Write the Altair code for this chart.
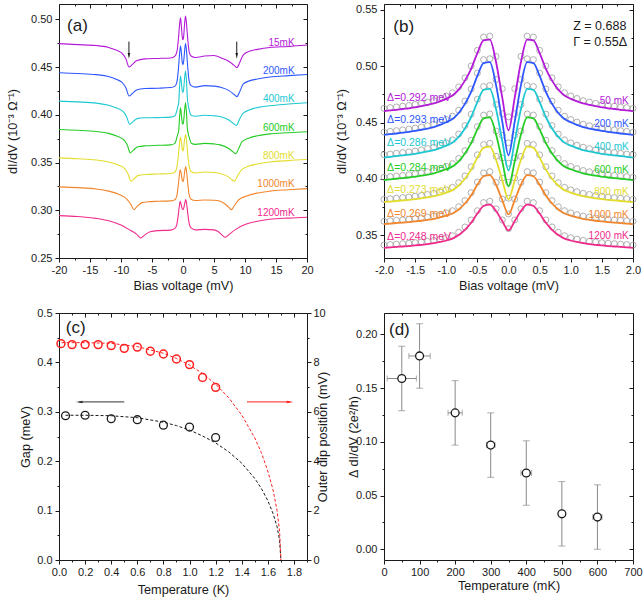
import altair as alt
import pandas as pd

FONT = "Liberation Sans"
INK = "#1a1a1a"
GREY = "#9c9c9c"

# ------------------------------------------------------------------ shared
a_names = ["15mK", "200mK", "400mK", "600mK", "800mK", "1000mK", "1200mK"]
b_temps_mK = [50, 200, 400, 600, 800, 1000, 1200]
curve_colors = ["#b41ad8", "#2f57ff", "#1ec8d2", "#25cc25", "#e3dd2e", "#f2862c", "#f02a8c"]

# ------------------------------------------------------------------ (a) wide-bias dI/dV
a_v_15 = [-20, -17, -14, -12, -10.7, -9.7, -9.2, -8.7, -8.2, -7.5, -6.2, -4, -2, -1.3, -1.0,
          -0.75, -0.55, -0.4, -0.25, -0.1, 0, 0.1, 0.25, 0.4, 0.55, 0.75, 1.0, 1.3, 2, 3.5,
          5, 6.2, 7.5, 8.2, 8.7, 9.2, 9.7, 10.7, 12, 14, 17, 20]
a_g_15 = [0.4745, 0.4735, 0.4725, 0.4705, 0.4675, 0.4635, 0.4585, 0.4500, 0.4525, 0.4565,
          0.4585, 0.4590, 0.4595, 0.4615, 0.4655, 0.4785, 0.4945, 0.5015, 0.4915, 0.4805,
          0.4785, 0.4815, 0.4945, 0.5035, 0.4965, 0.4805, 0.4655, 0.4615, 0.4600, 0.4615,
          0.4620, 0.4595, 0.4555, 0.4520, 0.4495, 0.4555, 0.4625, 0.4665, 0.4685, 0.4705,
          0.4715, 0.4730]
a_v_200 = list(a_v_15)
a_g_200 = [0.4440, 0.4432, 0.4420, 0.4400, 0.4370, 0.4330, 0.4280, 0.4196, 0.4220, 0.4260,
           0.4275, 0.4278, 0.4285, 0.4300, 0.4340, 0.4470, 0.4640, 0.4720, 0.4640, 0.4540,
           0.4525, 0.4555, 0.4660, 0.4745, 0.4680, 0.4510, 0.4350, 0.4305, 0.4290, 0.4305,
           0.4300, 0.4285, 0.4250, 0.4215, 0.4190, 0.4250, 0.4320, 0.4355, 0.4375, 0.4395,
           0.4410, 0.4422]
a_v_400 = [-20, -17, -14, -12, -10.7, -9.6, -9.1, -8.6, -8.1, -7.4, -6.1, -4, -2, -1.3, -1.0,
           -0.85, -0.7, -0.55, -0.4, -0.25, -0.1, 0, 0.1, 0.25, 0.4, 0.55, 0.7, 0.85, 1.0, 1.3,
           2, 3.5, 5, 6.1, 7.4, 8.1, 8.6, 9.1, 9.6, 10.7, 12, 14, 17, 20]
a_g_400 = [0.4143, 0.4135, 0.4122, 0.4100, 0.4070, 0.4030, 0.3980, 0.3900, 0.3925, 0.3960,
           0.3968, 0.3970, 0.3975, 0.3990, 0.4040, 0.4080, 0.4120, 0.4300, 0.4406, 0.4330,
           0.4245, 0.4235, 0.4265, 0.4380, 0.4458, 0.4370, 0.4180, 0.4100, 0.4050, 0.3995,
           0.3985, 0.3995, 0.3990, 0.3980, 0.3945, 0.3910, 0.3888, 0.3950, 0.4010, 0.4050,
           0.4075, 0.4095, 0.4112, 0.4126]
a_v_600 = [-20, -17, -14, -12, -10.6, -9.5, -9.0, -8.5, -8.0, -7.3, -6, -4, -2, -1.3, -1.0,
           -0.85, -0.7, -0.55, -0.4, -0.25, -0.1, 0, 0.1, 0.25, 0.4, 0.55, 0.7, 0.85, 1.0, 1.3,
           2, 3.5, 5, 6, 7.3, 8.0, 8.5, 9.0, 9.5, 10.6, 12, 14, 17, 20]
a_g_600 = [0.3846, 0.3838, 0.3825, 0.3805, 0.3775, 0.3735, 0.3685, 0.3601, 0.3630, 0.3665,
           0.3675, 0.3680, 0.3685, 0.3700, 0.3760, 0.3795, 0.3830, 0.3980, 0.4073, 0.3990,
           0.3910, 0.3900, 0.3930, 0.4040, 0.4126, 0.4030, 0.3860, 0.3800, 0.3765, 0.3705,
           0.3690, 0.3700, 0.3695, 0.3685, 0.3650, 0.3615, 0.3591, 0.3650, 0.3715, 0.3755,
           0.3780, 0.3800, 0.3812, 0.3822]
a_v_800 = [-20, -17, -14, -12, -10.5, -9.4, -8.9, -8.4, -7.9, -7.2, -6, -4, -2, -1.3, -1.0,
           -0.8, -0.6, -0.42, -0.25, -0.1, 0, 0.1, 0.25, 0.42, 0.6, 0.8, 1.0, 1.3, 2, 3.5,
           5, 6, 7.2, 7.9, 8.3, 8.8, 9.4, 10.5, 12, 14, 17, 20]
a_g_800 = [0.3549, 0.3540, 0.3527, 0.3505, 0.3475, 0.3435, 0.3385, 0.3304, 0.3330, 0.3365,
           0.3375, 0.3380, 0.3385, 0.3400, 0.3450, 0.3540, 0.3680, 0.3766, 0.3710, 0.3630,
           0.3620, 0.3650, 0.3740, 0.3794, 0.3710, 0.3560, 0.3460, 0.3405, 0.3390, 0.3400,
           0.3395, 0.3385, 0.3355, 0.3320, 0.3304, 0.3360, 0.3420, 0.3460, 0.3485, 0.3505,
           0.3520, 0.3531]
a_v_1000 = [-20, -17, -14, -12, -10.3, -9.1, -8.4, -7.9, -7.4, -6.6, -5.5, -4, -2, -1.3, -1.0,
            -0.8, -0.6, -0.45, -0.3, -0.15, 0, 0.15, 0.3, 0.45, 0.6, 0.8, 1.0, 1.3, 2, 3.5,
            5, 6, 6.9, 7.4, 7.8, 8.3, 9.0, 10.3, 12, 14, 17, 20]
a_g_1000 = [0.3245, 0.3237, 0.3223, 0.3200, 0.3165, 0.3120, 0.3060, 0.3007, 0.3040, 0.3080,
            0.3090, 0.3094, 0.3098, 0.3110, 0.3150, 0.3240, 0.3360, 0.3427, 0.3390, 0.3320,
            0.3300, 0.3340, 0.3420, 0.3455, 0.3390, 0.3260, 0.3160, 0.3115, 0.3102, 0.3108,
            0.3105, 0.3095, 0.3060, 0.3030, 0.3007, 0.3050, 0.3110, 0.3150, 0.3180, 0.3200,
            0.3215, 0.3227]
a_v_1200 = [-20, -17, -14, -12, -10, -8.5, -7.5, -6.8, -6.2, -5.3, -4, -2, -1.3, -1.0, -0.8,
            -0.6, -0.45, -0.3, -0.15, 0, 0.15, 0.3, 0.45, 0.6, 0.8, 1.0, 1.3, 2, 3.5, 5,
            5.6, 6.3, 6.8, 7.5, 8.5, 10, 12, 14, 17, 20]
a_g_1200 = [0.2944, 0.2935, 0.2915, 0.2890, 0.2845, 0.2790, 0.2750, 0.2710, 0.2740, 0.2775,
            0.2787, 0.2792, 0.2810, 0.2850, 0.2930, 0.3040, 0.3094, 0.3060, 0.3020, 0.3007,
            0.3030, 0.3080, 0.3112, 0.3060, 0.2950, 0.2860, 0.2815, 0.2795, 0.2800, 0.2795,
            0.2780, 0.2740, 0.2717, 0.2750, 0.2800, 0.2850, 0.2885, 0.2905, 0.2918, 0.2927]

a_label_x = 18.0
a_label_y = [0.4755, 0.4458, 0.4161, 0.3863, 0.3567, 0.3270, 0.2972]
a_arrow_v = [-8.72, 8.67]
a_arrow_from, a_arrow_to, a_arrow_head = 0.4766, 0.4645, 0.4617

# ------------------------------------------------------------------ (b) low-bias spectra
b_v = [-2.0, -1.9, -1.8, -1.7, -1.6, -1.5, -1.4, -1.3, -1.2, -1.1, -1.0, -0.9, -0.8, -0.7,
       -0.6, -0.5, -0.4, -0.3, -0.2, -0.1, 0.0, 0.1, 0.2, 0.3, 0.4, 0.5, 0.6, 0.7, 0.8, 0.9,
       1.0, 1.1, 1.2, 1.3, 1.4, 1.5, 1.6, 1.7, 1.8, 1.9, 2.0]

b_fit_50 = [0.4600, 0.4607, 0.4613, 0.4620, 0.4626, 0.4635, 0.4645, 0.4656, 0.4669, 0.4688,
            0.4710, 0.4739, 0.4791, 0.4871, 0.4976, 0.5115, 0.5227, 0.5235, 0.5036, 0.4720,
            0.4430,
            0.4720, 0.5036, 0.5235, 0.5227, 0.5115, 0.4976, 0.4871, 0.4791, 0.4739, 0.4710,
            0.4688, 0.4669, 0.4656, 0.4645, 0.4635, 0.4626, 0.4620, 0.4613, 0.4607, 0.4600]
b_fit_200 = [0.4390, 0.4397, 0.4403, 0.4410, 0.4417, 0.4426, 0.4436, 0.4447, 0.4460, 0.4479,
             0.4502, 0.4531, 0.4584, 0.4665, 0.4772, 0.4913, 0.5027, 0.5035, 0.4831, 0.4508,
             0.4210,
             0.4508, 0.4831, 0.5035, 0.5027, 0.4913, 0.4772, 0.4665, 0.4584, 0.4531, 0.4502,
             0.4479, 0.4460, 0.4447, 0.4436, 0.4426, 0.4417, 0.4410, 0.4403, 0.4397, 0.4390]
b_fit_400 = [0.4190, 0.4196, 0.4203, 0.4209, 0.4215, 0.4223, 0.4233, 0.4244, 0.4256, 0.4274,
             0.4295, 0.4322, 0.4373, 0.4448, 0.4549, 0.4681, 0.4789, 0.4798, 0.4619, 0.4336,
             0.4075,
             0.4336, 0.4619, 0.4798, 0.4789, 0.4681, 0.4549, 0.4448, 0.4373, 0.4322, 0.4295,
             0.4274, 0.4256, 0.4244, 0.4233, 0.4223, 0.4215, 0.4209, 0.4203, 0.4196, 0.4190]
b_fit_600 = [0.3990, 0.3996, 0.4002, 0.4007, 0.4013, 0.4021, 0.4029, 0.4039, 0.4050, 0.4067,
             0.4086, 0.4111, 0.4157, 0.4226, 0.4318, 0.4439, 0.4536, 0.4546, 0.4395, 0.4156,
             0.3935,
             0.4156, 0.4395, 0.4546, 0.4536, 0.4439, 0.4318, 0.4226, 0.4157, 0.4111, 0.4086,
             0.4067, 0.4050, 0.4039, 0.4029, 0.4021, 0.4013, 0.4007, 0.4002, 0.3996, 0.3990]
b_fit_800 = [0.3795, 0.3800, 0.3805, 0.3810, 0.3815, 0.3822, 0.3829, 0.3838, 0.3848, 0.3862,
             0.3879, 0.3901, 0.3942, 0.4002, 0.4083, 0.4189, 0.4275, 0.4286, 0.4170, 0.3988,
             0.3820,
             0.3988, 0.4170, 0.4286, 0.4275, 0.4189, 0.4083, 0.4002, 0.3942, 0.3901, 0.3879,
             0.3862, 0.3848, 0.3838, 0.3829, 0.3822, 0.3815, 0.3810, 0.3805, 0.3800, 0.3795]
b_fit_1000 = [0.3600, 0.3605, 0.3609, 0.3613, 0.3618, 0.3624, 0.3630, 0.3638, 0.3647, 0.3659,
              0.3675, 0.3694, 0.3729, 0.3783, 0.3854, 0.3948, 0.4024, 0.4035, 0.3949, 0.3812,
              0.3686,
              0.3812, 0.3949, 0.4035, 0.4024, 0.3948, 0.3854, 0.3783, 0.3729, 0.3694, 0.3675,
              0.3659, 0.3647, 0.3638, 0.3630, 0.3624, 0.3618, 0.3613, 0.3609, 0.3605, 0.3600]
b_fit_1200 = [0.3390, 0.3394, 0.3398, 0.3402, 0.3406, 0.3411, 0.3417, 0.3423, 0.3431, 0.3442,
              0.3455, 0.3472, 0.3503, 0.3550, 0.3612, 0.3694, 0.3761, 0.3773, 0.3716, 0.3627,
              0.3544,
              0.3627, 0.3716, 0.3773, 0.3761, 0.3694, 0.3612, 0.3550, 0.3503, 0.3472, 0.3455,
              0.3442, 0.3431, 0.3423, 0.3417, 0.3411, 0.3406, 0.3402, 0.3398, 0.3394, 0.3390]

b_dat_50 = [0.4625, 0.4632, 0.4638, 0.4645, 0.4651, 0.4660, 0.4670, 0.4681, 0.4694, 0.4713,
            0.4735, 0.4764, 0.4816, 0.4896, 0.5001, 0.5140, 0.5257, 0.5265, 0.5086, 0.4800,
            0.4550,
            0.4800, 0.5086, 0.5265, 0.5257, 0.5140, 0.5001, 0.4896, 0.4816, 0.4764, 0.4735,
            0.4713, 0.4694, 0.4681, 0.4670, 0.4660, 0.4651, 0.4645, 0.4638, 0.4632, 0.4625]
b_dat_200 = [0.4415, 0.4422, 0.4428, 0.4435, 0.4442, 0.4451, 0.4461, 0.4472, 0.4485, 0.4504,
             0.4527, 0.4556, 0.4609, 0.4690, 0.4797, 0.4938, 0.5057, 0.5065, 0.4881, 0.4578,
             0.4320,
             0.4578, 0.4881, 0.5065, 0.5057, 0.4938, 0.4797, 0.4690, 0.4609, 0.4556, 0.4527,
             0.4504, 0.4485, 0.4472, 0.4461, 0.4451, 0.4442, 0.4435, 0.4428, 0.4422, 0.4415]
b_dat_400 = [0.4215, 0.4221, 0.4228, 0.4234, 0.4240, 0.4248, 0.4258, 0.4269, 0.4281, 0.4299,
             0.4320, 0.4347, 0.4398, 0.4473, 0.4574, 0.4706, 0.4819, 0.4828, 0.4659, 0.4386,
             0.4140,
             0.4386, 0.4659, 0.4828, 0.4819, 0.4706, 0.4574, 0.4473, 0.4398, 0.4347, 0.4320,
             0.4299, 0.4281, 0.4269, 0.4258, 0.4248, 0.4240, 0.4234, 0.4228, 0.4221, 0.4215]
b_dat_600 = [0.4015, 0.4021, 0.4027, 0.4032, 0.4038, 0.4046, 0.4054, 0.4064, 0.4075, 0.4092,
             0.4111, 0.4136, 0.4182, 0.4251, 0.4343, 0.4464, 0.4566, 0.4576, 0.4425, 0.4186,
             0.3970,
             0.4186, 0.4425, 0.4576, 0.4566, 0.4464, 0.4343, 0.4251, 0.4182, 0.4136, 0.4111,
             0.4092, 0.4075, 0.4064, 0.4054, 0.4046, 0.4038, 0.4032, 0.4027, 0.4021, 0.4015]
b_dat_800 = [0.3820, 0.3825, 0.3830, 0.3835, 0.3840, 0.3847, 0.3854, 0.3863, 0.3873, 0.3887,
             0.3904, 0.3926, 0.3967, 0.4027, 0.4108, 0.4214, 0.4305, 0.4316, 0.4200, 0.4008,
             0.3830,
             0.4008, 0.4200, 0.4316, 0.4305, 0.4214, 0.4108, 0.4027, 0.3967, 0.3926, 0.3904,
             0.3887, 0.3873, 0.3863, 0.3854, 0.3847, 0.3840, 0.3835, 0.3830, 0.3825, 0.3820]
b_dat_1000 = [0.3625, 0.3630, 0.3634, 0.3638, 0.3643, 0.3649, 0.3655, 0.3663, 0.3672, 0.3684,
              0.3700, 0.3719, 0.3754, 0.3808, 0.3879, 0.3973, 0.4054, 0.4065, 0.3969, 0.3822,
              0.3690,
              0.3822, 0.3969, 0.4065, 0.4054, 0.3973, 0.3879, 0.3808, 0.3754, 0.3719, 0.3700,
              0.3684, 0.3672, 0.3663, 0.3655, 0.3649, 0.3643, 0.3638, 0.3634, 0.3630, 0.3625]
b_dat_1200 = [0.3415, 0.3419, 0.3423, 0.3427, 0.3431, 0.3436, 0.3442, 0.3448, 0.3456, 0.3467,
              0.3480, 0.3497, 0.3528, 0.3575, 0.3637, 0.3719, 0.3791, 0.3803, 0.3736, 0.3637,
              0.3560,
              0.3637, 0.3736, 0.3803, 0.3791, 0.3719, 0.3637, 0.3575, 0.3528, 0.3497, 0.3480,
              0.3467, 0.3456, 0.3448, 0.3442, 0.3436, 0.3431, 0.3427, 0.3423, 0.3419, 0.3415]

b_gap_label_x = -1.95
b_gap_label_y = [0.472, 0.452, 0.432, 0.410, 0.390, 0.369, 0.349]
b_temp_label_x = 1.93
b_temp_label_y = [0.4695, 0.4488, 0.4281, 0.4081, 0.3883, 0.3682, 0.3491]
b_Z = 0.688
b_Gamma = 0.55

# ------------------------------------------------------------------ (c) gap and outer dip vs T
c_gap_T = [0.05, 0.2, 0.4, 0.6, 0.8, 1.0, 1.2]
c_gap = [0.292, 0.293, 0.286, 0.284, 0.273, 0.269, 0.248]
c_dip_T = [0.015, 0.1, 0.2, 0.3, 0.4, 0.5, 0.6, 0.7, 0.8, 0.9, 1.0, 1.1, 1.2]
c_dip = [8.76, 8.72, 8.72, 8.72, 8.68, 8.57, 8.62, 8.45, 8.34, 8.14, 7.91, 7.39, 6.99]
c_gap_fit_T = [0.05, 0.2, 0.4, 0.6, 0.8, 0.9, 1.0, 1.1, 1.2, 1.3, 1.4, 1.5, 1.55, 1.6, 1.64,
               1.67, 1.69, 1.7]
c_gap_fit = [0.293, 0.293, 0.292, 0.288, 0.279, 0.272, 0.263, 0.251, 0.237, 0.219, 0.196,
             0.165, 0.145, 0.120, 0.094, 0.068, 0.040, 0.0]
c_dip_fit_T = [0.02, 0.2, 0.4, 0.6, 0.8, 0.9, 1.0, 1.1, 1.2, 1.3, 1.4, 1.5, 1.55, 1.6, 1.64,
               1.67, 1.69, 1.7]
c_dip_fit = [8.80, 8.80, 8.77, 8.64, 8.37, 8.16, 7.89, 7.55, 7.12, 6.57, 5.87, 4.94, 4.35,
             3.60, 2.83, 2.02, 1.17, 0.0]
c_arrow_y = 0.32
c_arrow_left = [0.155, 0.50]
c_arrow_right = [1.44, 1.77]

# ------------------------------------------------------------------ (d) conductance step vs T
d_T = [50, 100, 200, 300, 400, 500, 600]
d_val = [0.159, 0.180, 0.127, 0.097, 0.071, 0.033, 0.030]
d_yerr = [0.030, 0.030, 0.030, 0.030, 0.030, 0.030, 0.030]
d_xerr = [41, 30, 20, 12, 15, 8, 13]

# ------------------------------------------------------------------ helpers
W1, W2 = 248, 249
H1, H2 = 254, 247
MINUS_FIX = "replace(datum.label, '\u2212', '-')"


def sc(dom):
    return alt.Scale(domain=dom, nice=False, zero=False)


def xq(field, dom):
    return alt.X(f"{field}:Q", scale=sc(dom), axis=None)


def yq(field, dom):
    return alt.Y(f"{field}:Q", scale=sc(dom), axis=None)


def tick_axis(orient, values, size, offset=0):
    return alt.Axis(orient=orient, values=values, labels=False, tickSize=size,
                    offset=offset, domain=False, grid=False, title=None)


def guide_layer(xdom, ydom, xaxis, yaxis):
    corners = pd.DataFrame({"x": list(xdom), "y": list(ydom)})
    return alt.Chart(corners).mark_point(opacity=0, size=0).encode(
        x=alt.X("x:Q", scale=sc(xdom), axis=xaxis),
        y=alt.Y("y:Q", scale=sc(ydom), axis=yaxis))


def frame(xdom, ydom, xmaj, xmin, ymaj, ymin, xfmt, yfmt, xtitle, ytitle,
          title_x, title_y, mirror_right=True):
    """Invisible layers that carry the boxed axes with inner mirror ticks."""
    labelled = guide_layer(
        xdom, ydom,
        alt.Axis(orient="bottom", values=xmaj, format=xfmt, labelExpr=MINUS_FIX,
                 title=xtitle, titleY=title_y, titleBaseline="top",
                 tickSize=4, labelPadding=2, domain=False, grid=False),
        alt.Axis(orient="left", values=ymaj, format=yfmt, labelExpr=MINUS_FIX,
                 title=ytitle, titleX=title_x, titleBaseline="bottom",
                 tickSize=4, labelPadding=3, domain=False, grid=False))
    minor = guide_layer(xdom, ydom, tick_axis("bottom", xmin, 2), tick_axis("left", ymin, 2))
    top_major = guide_layer(xdom, ydom, tick_axis("top", xmaj, 4, -4),
                            tick_axis("right", ymaj, 4, -4) if mirror_right else None)
    top_minor = guide_layer(xdom, ydom, tick_axis("top", xmin, 2, -2),
                            tick_axis("right", ymin, 2, -2) if mirror_right else None)
    return [labelled, minor, top_major, top_minor]


def text_layer(df, xdom, ydom, size, align="left"):
    return alt.Chart(df).mark_text(font=FONT, fontSize=size, align=align,
                                   baseline="middle", color=INK).encode(
        x=xq("x", xdom), y=yq("y", ydom), text="t:N")


# ------------------------------------------------------------------ panel (a)
A_X, A_Y = [-20, 20], [0.25, 0.516]
a_sets = [(a_v_15, a_g_15), (a_v_200, a_g_200), (a_v_400, a_g_400), (a_v_600, a_g_600),
          (a_v_800, a_g_800), (a_v_1000, a_g_1000), (a_v_1200, a_g_1200)]
a_df = pd.concat([pd.DataFrame({"V": v, "G": g, "T": n})
                  for n, (v, g) in zip(a_names, a_sets)], ignore_index=True)
a_color = alt.Color("T:N", scale=alt.Scale(domain=a_names, range=curve_colors), legend=None)

a_lines = alt.Chart(a_df).mark_line(strokeWidth=1.1, interpolate="monotone").encode(
    x=xq("V", A_X), y=yq("G", A_Y), color=a_color)
a_lab = alt.Chart(pd.DataFrame({"x": [a_label_x] * len(a_names), "y": a_label_y, "T": a_names})
                  ).mark_text(font=FONT, fontSize=10, align="right", baseline="middle").encode(
    x=xq("x", A_X), y=yq("y", A_Y), text="T:N", color=a_color)
a_arrow_df = pd.DataFrame({"x": a_arrow_v, "y1": [a_arrow_from] * 2, "y2": [a_arrow_to] * 2,
                           "yh": [a_arrow_head] * 2})
a_arrow_line = alt.Chart(a_arrow_df).mark_rule(color=INK, strokeWidth=1).encode(
    x=xq("x", A_X), y=yq("y1", A_Y), y2="y2:Q")
a_arrow_tip = alt.Chart(a_arrow_df).mark_point(
    shape="M -0.45 -1 L 0.45 -1 L 0 1 Z", filled=True, color=INK, size=32, opacity=1,
    strokeWidth=0).encode(x=xq("x", A_X), y=yq("yh", A_Y))
a_tag = text_layer(pd.DataFrame({"x": [-18.7], "y": [0.493], "t": ["(a)"]}), A_X, A_Y, 17)

panel_a = alt.layer(
    *frame(A_X, A_Y, [-20, -15, -10, -5, 0, 5, 10, 15, 20],
           [-17.5, -12.5, -7.5, -2.5, 2.5, 7.5, 12.5, 17.5],
           [0.25, 0.30, 0.35, 0.40, 0.45, 0.50], [0.275, 0.325, 0.375, 0.425, 0.475],
           "d", ".2f", "Bias voltage (mV)", "dI/dV (10\u207b\u00b3 \u03a9\u207b\u00b9)", -39.5, 21),
    a_lines, a_lab, a_arrow_line, a_arrow_tip, a_tag,
).resolve_axis(x="independent", y="independent").properties(width=W1, height=H1)

# ------------------------------------------------------------------ panel (b)
B_X, B_Y = [-2, 2], [0.33, 0.555]
b_names = [f"{t} mK" for t in b_temps_mK]
b_fits = [b_fit_50, b_fit_200, b_fit_400, b_fit_600, b_fit_800, b_fit_1000, b_fit_1200]
b_dats = [b_dat_50, b_dat_200, b_dat_400, b_dat_600, b_dat_800, b_dat_1000, b_dat_1200]
b_fit_df = pd.concat([pd.DataFrame({"V": b_v, "G": g, "T": n})
                      for n, g in zip(b_names, b_fits)], ignore_index=True)
b_dat_df = pd.concat([pd.DataFrame({"V": b_v, "G": g, "T": n})
                      for n, g in zip(b_names, b_dats)], ignore_index=True)
b_color = alt.Color("T:N", scale=alt.Scale(domain=b_names, range=curve_colors), legend=None)

b_points = alt.Chart(b_dat_df).mark_point(
    shape="circle", filled=False, color=GREY, size=36, strokeWidth=0.8, opacity=1).encode(
    x=xq("V", B_X), y=yq("G", B_Y), detail="T:N")
b_lines = alt.Chart(b_fit_df).mark_line(strokeWidth=1.8, interpolate="monotone").encode(
    x=xq("V", B_X), y=yq("G", B_Y), color=b_color)
b_gap_lab = alt.Chart(pd.DataFrame({
    "x": [b_gap_label_x] * len(b_names), "y": b_gap_label_y, "T": b_names,
    "t": [f"\u0394={g:.3f} meV" for g in c_gap]})).mark_text(
    font=FONT, fontSize=10.5, align="left", baseline="middle").encode(
    x=xq("x", B_X), y=yq("y", B_Y), text="t:N", color=b_color)
b_temp_lab = alt.Chart(pd.DataFrame({
    "x": [b_temp_label_x] * len(b_names), "y": b_temp_label_y, "T": b_names})).mark_text(
    font=FONT, fontSize=10, align="right", baseline="middle").encode(
    x=xq("x", B_X), y=yq("y", B_Y), text="T:N", color=b_color)
b_params = text_layer(pd.DataFrame({
    "x": [1.04, 1.04], "y": [0.5352, 0.5217],
    "t": [f"Z = {b_Z}", f"\u0393 = {b_Gamma}\u0394"]}), B_X, B_Y, 12.5)
b_tag = text_layer(pd.DataFrame({"x": [-1.85], "y": [0.5343], "t": ["(b)"]}), B_X, B_Y, 17)

panel_b = alt.layer(
    *frame(B_X, B_Y, [-2.0, -1.5, -1.0, -0.5, 0.0, 0.5, 1.0, 1.5, 2.0],
           [-1.75, -1.25, -0.75, -0.25, 0.25, 0.75, 1.25, 1.75],
           [0.35, 0.40, 0.45, 0.50, 0.55], [0.375, 0.425, 0.475, 0.525],
           ".1f", ".2f", "Bias voltage (mV)", "dI/dV (10\u207b\u00b3 \u03a9\u207b\u00b9)", -36, 21),
    b_points, b_lines, b_gap_lab, b_temp_lab, b_params, b_tag,
).resolve_axis(x="independent", y="independent").properties(width=W2, height=H1)

# ------------------------------------------------------------------ panel (c)
C_X, C_Y, C_Y2 = [0, 1.9], [0, 0.5], [0, 10]
c_gap_df = pd.DataFrame({"T": c_gap_T, "g": c_gap})
c_gap_fit_df = pd.DataFrame({"T": c_gap_fit_T, "g": c_gap_fit})
c_dip_df = pd.DataFrame({"T": c_dip_T, "d": c_dip})
c_dip_fit_df = pd.DataFrame({"T": c_dip_fit_T, "d": c_dip_fit})
RED = "#ff2020"
ARROW_INK = "#333333"

c_gap_line = alt.Chart(c_gap_fit_df).mark_line(
    color=INK, strokeWidth=1, strokeDash=[3, 2]).encode(x=xq("T", C_X), y=yq("g", C_Y))
c_gap_pts = alt.Chart(c_gap_df).mark_point(
    shape="circle", filled=False, color=INK, size=62, strokeWidth=1.3, opacity=1).encode(
    x=xq("T", C_X), y=yq("g", C_Y))
c_arrow_l_df = pd.DataFrame({"x1": [c_arrow_left[0]], "x2": [c_arrow_left[1]], "y": [c_arrow_y]})
c_arrow_r_df = pd.DataFrame({"x1": [c_arrow_right[0]], "x2": [c_arrow_right[1]], "y": [c_arrow_y]})
c_arrow_l = alt.Chart(c_arrow_l_df).mark_rule(color=ARROW_INK, strokeWidth=1).encode(
    x=xq("x1", C_X), x2="x2:Q", y=yq("y", C_Y))
c_arrow_r = alt.Chart(c_arrow_r_df).mark_rule(color=RED, strokeWidth=1).encode(
    x=xq("x1", C_X), x2="x2:Q", y=yq("y", C_Y))
c_head_l = alt.Chart(c_arrow_l_df).mark_point(
    shape="M -1 0 L 1 -0.38 L 1 0.38 Z", filled=True, color=ARROW_INK, size=46, opacity=1,
    strokeWidth=0).encode(x=xq("x1", C_X), y=yq("y", C_Y))
c_head_r = alt.Chart(c_arrow_r_df).mark_point(
    shape="M 1 0 L -1 -0.38 L -1 0.38 Z", filled=True, color=RED, size=46, opacity=1,
    strokeWidth=0).encode(x=xq("x2", C_X), y=yq("y", C_Y))
c_tag = text_layer(pd.DataFrame({"x": [0.052], "y": [0.4696], "t": ["(c)"]}), C_X, C_Y, 17)

c_left = alt.layer(
    *frame(C_X, C_Y, [0.0, 0.2, 0.4, 0.6, 0.8, 1.0, 1.2, 1.4, 1.6, 1.8],
           [0.1, 0.3, 0.5, 0.7, 0.9, 1.1, 1.3, 1.5, 1.7, 1.9],
           [0.0, 0.1, 0.2, 0.3, 0.4, 0.5], [0.05, 0.15, 0.25, 0.35, 0.45],
           ".1f", ".1f", "Temperature (K)", "Gap (meV)", -27, 23.5, mirror_right=False),
    c_gap_line, c_gap_pts, c_arrow_l, c_arrow_r, c_head_l, c_head_r, c_tag,
).resolve_axis(x="independent", y="independent")

c_right_axis = guide_layer(C_X, C_Y2, None, alt.Axis(
    orient="right", values=[0, 2, 4, 6, 8, 10], format="d",
    title="Outer dip position (mV)", titleAngle=270, titleBaseline="bottom", titleX=22,
    tickSize=4, labelPadding=2, domain=False, grid=False))
c_right_minor = guide_layer(C_X, C_Y2, None, tick_axis("right", [1, 3, 5, 7, 9], 2))
c_dip_line = alt.Chart(c_dip_fit_df).mark_line(
    color=RED, strokeWidth=1, strokeDash=[3, 2]).encode(x=xq("T", C_X), y=yq("d", C_Y2))
c_dip_pts = alt.Chart(c_dip_df).mark_point(
    shape="circle", filled=False, color=RED, size=62, strokeWidth=1.5, opacity=1).encode(
    x=xq("T", C_X), y=yq("d", C_Y2))

c_right = alt.layer(c_right_axis, c_right_minor, c_dip_line, c_dip_pts
                    ).resolve_axis(x="independent", y="independent")

panel_c = alt.layer(c_left, c_right).resolve_scale(y="independent").resolve_axis(
    x="independent", y="independent").properties(width=W1, height=H2)

# ------------------------------------------------------------------ panel (d)
D_X, D_Y = [0, 700], [-0.01, 0.22]
d_df = pd.DataFrame({"T": d_T, "v": d_val, "ex": d_xerr, "ey": d_yerr})
d_df["ylo"] = d_df["v"] - d_df["ey"]
d_df["yhi"] = d_df["v"] + d_df["ey"]
d_df["xlo"] = d_df["T"] - d_df["ex"]
d_df["xhi"] = d_df["T"] + d_df["ex"]
ERR = "#8a8a8a"

d_ybar = alt.Chart(d_df).mark_rule(color=ERR, strokeWidth=1).encode(
    x=xq("T", D_X), y=yq("ylo", D_Y), y2="yhi:Q")
d_xbar = alt.Chart(d_df).mark_rule(color=ERR, strokeWidth=1).encode(
    x=xq("xlo", D_X), x2="xhi:Q", y=yq("v", D_Y))
d_ycap_lo = alt.Chart(d_df).mark_tick(color=ERR, orient="horizontal", size=7, thickness=1
                                      ).encode(x=xq("T", D_X), y=yq("ylo", D_Y))
d_ycap_hi = alt.Chart(d_df).mark_tick(color=ERR, orient="horizontal", size=7, thickness=1
                                      ).encode(x=xq("T", D_X), y=yq("yhi", D_Y))
d_xcap_lo = alt.Chart(d_df).mark_tick(color=ERR, orient="vertical", size=6, thickness=1
                                      ).encode(x=xq("xlo", D_X), y=yq("v", D_Y))
d_xcap_hi = alt.Chart(d_df).mark_tick(color=ERR, orient="vertical", size=6, thickness=1
                                      ).encode(x=xq("xhi", D_X), y=yq("v", D_Y))
d_pts = alt.Chart(d_df).mark_point(
    shape="circle", filled=True, fill="white", stroke=INK, size=62, strokeWidth=1.3,
    opacity=1).encode(x=xq("T", D_X), y=yq("v", D_Y))
d_tag = text_layer(pd.DataFrame({"x": [14], "y": [0.204], "t": ["(d)"]}), D_X, D_Y, 17)

panel_d = alt.layer(
    *frame(D_X, D_Y, [0, 100, 200, 300, 400, 500, 600, 700],
           [50, 150, 250, 350, 450, 550, 650],
           [0.00, 0.05, 0.10, 0.15, 0.20], [0.025, 0.075, 0.125, 0.175],
           "d", ".2f", "Temperature (mK)", "\u0394 dI/dV (2e\u00b2/h)", -24, 19),
    d_ybar, d_xbar, d_ycap_lo, d_ycap_hi, d_xcap_lo, d_xcap_hi, d_pts, d_tag,
).resolve_axis(x="independent", y="independent").properties(width=W2, height=H2)

# ------------------------------------------------------------------ assemble
chart = alt.concat(
    panel_a, panel_b, panel_c, panel_d, columns=2,
    spacing={"row": 55, "column": 77}, bounds="flush",
).resolve_scale(
    color="independent",
).properties(
    padding={"left": 6, "top": 3, "right": 0, "bottom": 0}, background="white",
).configure_view(
    stroke=INK, strokeWidth=1,
).configure_axis(
    labelFont=FONT, labelFontSize=11, labelColor=INK,
    titleFont=FONT, titleFontSize=12.7, titleFontWeight="normal", titleColor=INK,
    tickColor=INK, tickWidth=1, labelOverlap=False, labelFlush=False,
)

chart.save("out.html", embed_options={"renderer": "svg", "actions": False})
